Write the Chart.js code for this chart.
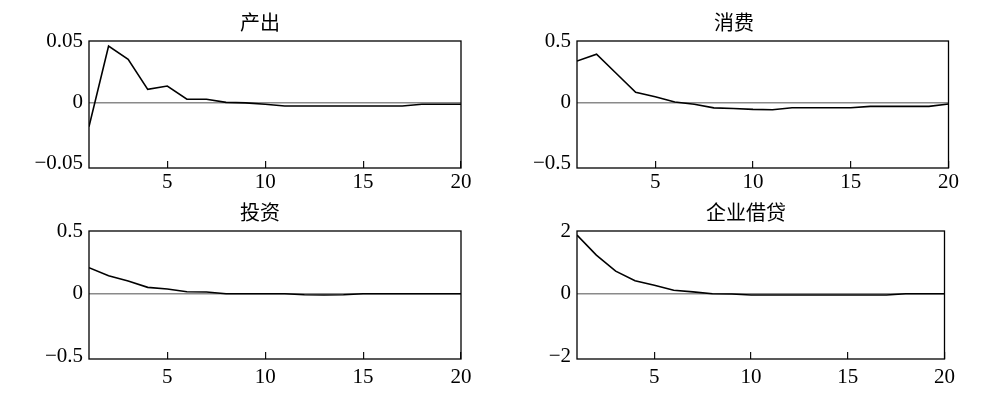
<!DOCTYPE html>
<html>
<head>
<meta charset="utf-8">
<script src="https://cdn.jsdelivr.net/npm/chart.js@4.4.1/dist/chart.umd.min.js"></script>
<style>
    body { margin: 0; background: #fff; width: 1001px; height: 399px; position: relative; overflow: hidden; }
    .panel { position: absolute; }
</style>
</head>
<body>
<div class="panel" style="left:0;top:0;width:520px;height:195px"><canvas id="output"></canvas></div>
<div class="panel" style="left:500px;top:0;width:468px;height:195px"><canvas id="consumption"></canvas></div>
<div class="panel" style="left:0;top:195px;width:520px;height:204px"><canvas id="investment"></canvas></div>
<div class="panel" style="left:524px;top:195px;width:444px;height:204px"><canvas id="loans"></canvas></div>
<script>
const periods = [1, 2, 3, 4, 5, 6, 7, 8, 9, 10, 11, 12, 13, 14, 15, 16, 17, 18, 19, 20];
const xTicks = [5, 10, 15, 20];

const titles = ["产出", "消费", "投资", "企业借贷"];

const outputValues = [-0.0198, 0.0459, 0.0351, 0.0106, 0.0133, 0.0025, 0.0025, 0.0, -0.0004, -0.0016,
    -0.003, -0.003, -0.003, -0.003, -0.003, -0.003, -0.003, -0.0016, -0.0016, -0.0016];
const consumptionValues = [0.337, 0.392, 0.237, 0.082, 0.046, 0.003, -0.016, -0.045, -0.05, -0.057,
    -0.06, -0.044, -0.044, -0.044, -0.044, -0.033, -0.033, -0.033, -0.033, -0.014];
const investmentValues = [0.208, 0.144, 0.101, 0.051, 0.038, 0.016, 0.014, 0.0, 0.0, 0.0,
    0.0, -0.008, -0.01, -0.008, 0.0, 0.0, 0.0, 0.0, 0.0, 0.0];
const loanValues = [1.87, 1.23, 0.72, 0.415, 0.27, 0.11, 0.06, 0.0, -0.01, -0.04,
    -0.04, -0.04, -0.04, -0.04, -0.04, -0.04, -0.04, 0.0, 0.0, 0.0];

const outputTicks = [-0.05, 0, 0.05];
const outputLabels = ["\u22120.05", "0", "0.05"];
const halfTicks = [-0.5, 0, 0.5];
const halfLabels = ["\u22120.5", "0", "0.5"];
const loanTicks = [-2, 0, 2];
const loanLabels = ["\u22122", "0", "2"];

const serif = "'Liberation Serif', 'Times New Roman', serif";
const cjk = "'Noto Sans CJK SC', sans-serif";

// box round the plot area
const frame = {
    id: "frame",
    afterDraw(chart) {
        const { ctx, chartArea: a } = chart;
        ctx.save();
        ctx.strokeStyle = "#000";
        ctx.lineWidth = 1.3;
        ctx.strokeRect(a.left, a.top, a.right - a.left, a.bottom - a.top);
        ctx.restore();
    }
};

const makeChart = (id, title, values, yMin, yMax, yTicks, yLabels, p) => {
    const points = periods.map((x, i) => ({ x: x, y: values[i] }));

    return new Chart(document.getElementById(id), {
        type: "line",
        data: {
            datasets: [{
                data: points,
                borderColor: "#000",
                borderWidth: 1.6,
                pointRadius: 0,
                tension: 0,
                fill: false
            }]
        },
        options: {
            responsive: true,
            maintainAspectRatio: false,
            animation: false,
            layout: { padding: 0 },
            plugins: {
                legend: { display: false },
                tooltip: { enabled: false },
                title: {
                    display: true,
                    text: title,
                    color: "#000",
                    font: { family: cjk, size: 20, weight: "normal", lineHeight: 1.2 },
                    padding: { top: p.titleTop, bottom: p.titleBottom }
                }
            },
            scales: {
                x: {
                    type: "linear",
                    min: 1,
                    max: 20,
                    afterBuildTicks: (scale) => { scale.ticks = xTicks.map((v) => ({ value: v })); },
                    afterFit: (scale) => { scale.height = p.xHeight; },
                    border: { display: false },
                    grid: { drawOnChartArea: false, drawTicks: true, tickLength: -7, color: "#111", lineWidth: 1.2 },
                    ticks: {
                        color: "#000",
                        padding: p.xPad,
                        maxRotation: 0,
                        autoSkip: false,
                        font: { family: serif, size: 21 }
                    }
                },
                y: {
                    min: yMin,
                    max: yMax,
                    afterBuildTicks: (scale) => { scale.ticks = yTicks.map((v) => ({ value: v })); },
                    afterFit: (scale) => { scale.width = p.yWidth; },
                    border: { display: false },
                    grid: {
                        drawTicks: false,
                        color: (c) => (c.tick && c.tick.value === 0 ? "#8a8a8a" : "rgba(0,0,0,0)"),
                        lineWidth: 1.6
                    },
                    ticks: {
                        color: "#000",
                        padding: 6,
                        autoSkip: false,
                        font: { family: serif, size: 21 },
                        callback: (v, i) => yLabels[i]
                    }
                },
                // empty strip on the right so the title sits where it should
                pad: {
                    type: "linear",
                    position: "right",
                    min: 0,
                    max: 1,
                    afterFit: (scale) => { scale.width = p.right; },
                    border: { display: false },
                    grid: { display: false },
                    ticks: { display: false }
                }
            }
        },
        plugins: [frame]
    });
};

makeChart("output", titles[0], outputValues, -0.0535, 0.05, outputTicks, outputLabels,
    { right: 59, yWidth: 89, xHeight: 27, xPad: 9, titleTop: 10, titleBottom: 7 });
makeChart("consumption", titles[1], consumptionValues, -0.535, 0.5, halfTicks, halfLabels,
    { right: 19, yWidth: 77, xHeight: 27, xPad: 9, titleTop: 10, titleBottom: 7 });
makeChart("investment", titles[2], investmentValues, -0.52, 0.5, halfTicks, halfLabels,
    { right: 59, yWidth: 89, xHeight: 40, xPad: 13, titleTop: 5, titleBottom: 7 });
makeChart("loans", titles[3], loanValues, -2.08, 2, loanTicks, loanLabels,
    { right: 19, yWidth: 53, xHeight: 40, xPad: 13, titleTop: 5, titleBottom: 7 });
</script>
</body>
</html>
